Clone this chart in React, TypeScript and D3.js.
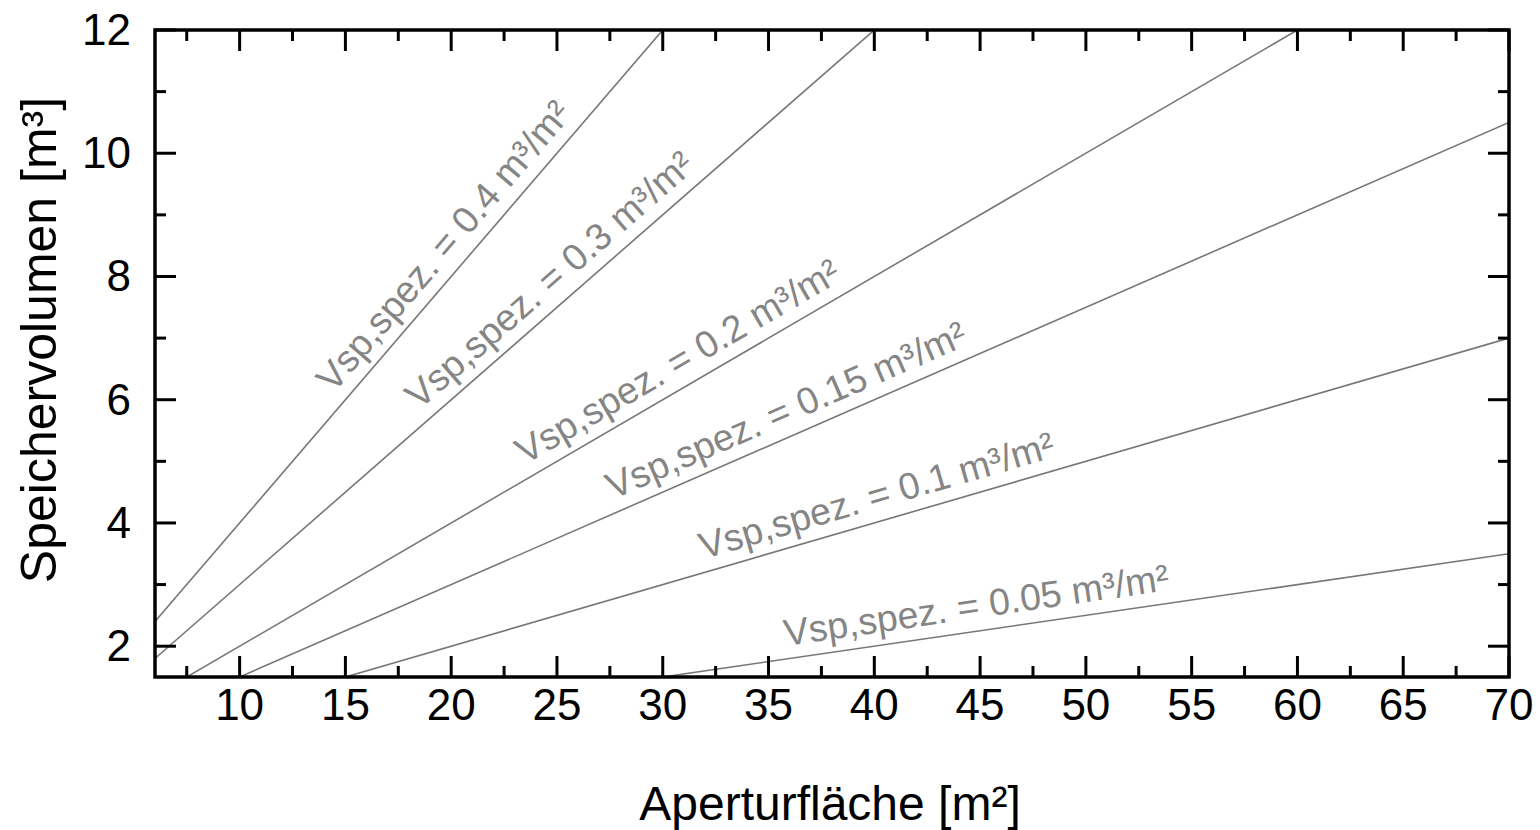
import React from "react";
import * as d3 from "d3";

const xDomain = [6, 70];
const yDomain = [1.5, 12];
const xMajorTicks = [10, 15, 20, 25, 30, 35, 40, 45, 50, 55, 60, 65, 70];
const xMinorTicks = [7.5, 12.5, 17.5, 22.5, 27.5, 32.5, 37.5, 42.5, 47.5, 52.5, 57.5, 62.5, 67.5];
const yMajorTicks = [2, 4, 6, 8, 10, 12];
const yMinorTicks = [3, 5, 7, 9, 11];
const specVolumes = [0.4, 0.3, 0.2, 0.15, 0.1, 0.05];
const labelTexts = [
  "Vsp,spez. = 0.4 m³/m²",
  "Vsp,spez. = 0.3 m³/m²",
  "Vsp,spez. = 0.2 m³/m²",
  "Vsp,spez. = 0.15 m³/m²",
  "Vsp,spez. = 0.1 m³/m²",
  "Vsp,spez. = 0.05 m³/m²",
];
const labelStartX = [14.9, 18.9, 23.8, 27.9, 32.1, 35.9];
const xTitle = "Aperturfläche [m²]";
const yTitle = "Speichervolumen [m³]";

const W = 1540;
const H = 830;
const L = 155, R = 1509, T = 30, B = 677;
const FONT = "Arial, 'Liberation Sans', sans-serif";

export default function App() {
  const x = d3.scaleLinear().domain(xDomain).range([L, R]);
  const y = d3.scaleLinear().domain(yDomain).range([B, T]);
  const line = d3.line<[number, number]>().x((d) => x(d[0])).y((d) => y(d[1]));
  const major = 21, minor = 11;
  const tickStroke = 3;
  return (
    <svg width={W} height={H} style={{ position: "absolute", left: 0, top: 0, background: "#fff" }} fontFamily={FONT}>
      <defs>
        <clipPath id="plot">
          <rect x={L} y={T} width={R - L} height={B - T} />
        </clipPath>
      </defs>
      <g clipPath="url(#plot)">
        {specVolumes.map((k, i) => (
          <path key={i} d={line([[xDomain[0], k * xDomain[0]], [xDomain[1], k * xDomain[1]]]) || ""} fill="none" stroke="#777" strokeWidth={1.6} />
        ))}
      </g>
      {specVolumes.map((k, i) => {
        const lx = labelStartX[i];
        const px = x(lx), py = y(k * lx);
        const dx = x(lx + 1) - px;
        const dy = y(k * (lx + 1)) - py;
        const ang = (Math.atan2(dy, dx) * 180) / Math.PI;
        return (
          <text key={i} transform={`translate(${px},${py}) rotate(${ang})`} x={0} y={-13} fontSize={37.5} fill="#858585">
            {labelTexts[i]}
          </text>
        );
      })}
      <g stroke="#000" strokeWidth={tickStroke}>
        {xMajorTicks.map((t) => (
          <g key={"xm" + t}>
            <line x1={x(t)} x2={x(t)} y1={B} y2={B - major} />
            <line x1={x(t)} x2={x(t)} y1={T} y2={T + major} />
          </g>
        ))}
        {xMinorTicks.map((t) => (
          <g key={"xn" + t}>
            <line x1={x(t)} x2={x(t)} y1={B} y2={B - minor} />
            <line x1={x(t)} x2={x(t)} y1={T} y2={T + minor} />
          </g>
        ))}
        {yMajorTicks.map((t) => (
          <g key={"ym" + t}>
            <line x1={L} x2={L + major} y1={y(t)} y2={y(t)} />
            <line x1={R} x2={R - major} y1={y(t)} y2={y(t)} />
          </g>
        ))}
        {yMinorTicks.map((t) => (
          <g key={"yn" + t}>
            <line x1={L} x2={L + minor} y1={y(t)} y2={y(t)} />
            <line x1={R} x2={R - minor} y1={y(t)} y2={y(t)} />
          </g>
        ))}
      </g>
      <rect x={L} y={T} width={R - L} height={B - T} fill="none" stroke="#000" strokeWidth={3.5} />
      {xMajorTicks.map((t) => (
        <text key={"xl" + t} x={x(t)} y={720} fontSize={44} textAnchor="middle" fill="#000">
          {t}
        </text>
      ))}
      {yMajorTicks.map((t) => (
        <text key={"yl" + t} x={131} y={y(t) + 15} fontSize={44} textAnchor="end" fill="#000">
          {t}
        </text>
      ))}
      <text x={830} y={820} fontSize={48} textAnchor="middle" fill="#000">
        {xTitle}
      </text>
      <text transform={`translate(56,340) rotate(-90)`} fontSize={50} textAnchor="middle" fill="#000">
        {yTitle}
      </text>
    </svg>
  );
}
